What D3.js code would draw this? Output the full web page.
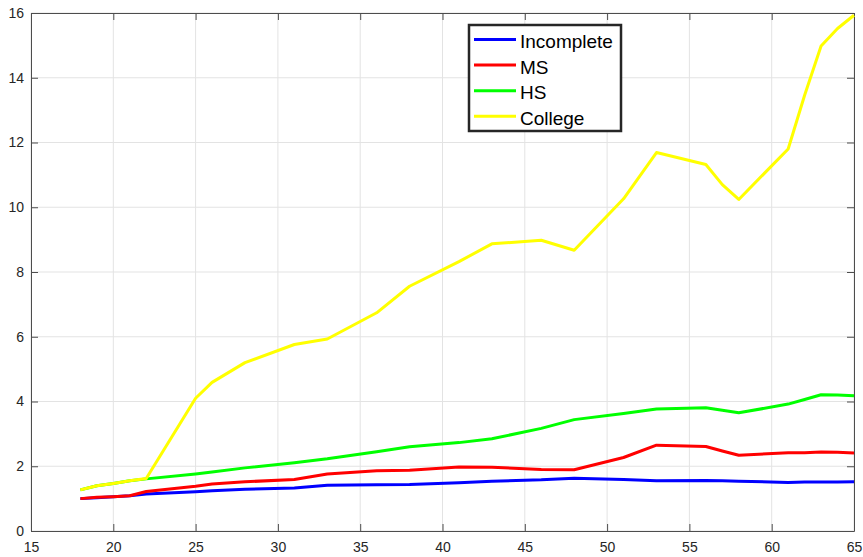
<!DOCTYPE html>
<html>
<head>
<meta charset="utf-8">
<script src="https://cdn.jsdelivr.net/npm/d3@7"></script>
<style>
  body { margin: 0; background: #fff; }
  svg { display: block; font-family: "Liberation Sans", Arial, sans-serif; }
</style>
</head>
<body>
<div id="chart"></div>
<script>
// ages where the curves have their vertices
var ages = [18, 19, 20, 21, 22, 25, 26, 28, 31, 33, 36, 38, 41, 43, 46, 48, 51, 53, 56, 57, 58, 61, 62, 63, 64, 65];

var incomplete = [1.0, 1.03, 1.06, 1.09, 1.14, 1.21, 1.24, 1.29, 1.33, 1.41, 1.43, 1.44, 1.49, 1.54, 1.58, 1.63, 1.59, 1.55, 1.56, 1.55, 1.54, 1.50, 1.51, 1.51, 1.51, 1.52];
var ms = [1.0, 1.04, 1.06, 1.09, 1.22, 1.38, 1.45, 1.52, 1.59, 1.76, 1.86, 1.88, 1.98, 1.97, 1.90, 1.89, 2.27, 2.65, 2.61, 2.47, 2.34, 2.42, 2.42, 2.44, 2.43, 2.41];
var hs = [1.27, 1.40, 1.47, 1.55, 1.61, 1.76, 1.82, 1.95, 2.11, 2.23, 2.45, 2.60, 2.73, 2.85, 3.17, 3.44, 3.63, 3.77, 3.81, 3.73, 3.65, 3.92, 4.06, 4.21, 4.20, 4.18];
var college = [1.27, 1.40, 1.47, 1.55, 1.62, 4.10, 4.59, 5.20, 5.76, 5.93, 6.74, 7.56, 8.32, 8.87, 8.98, 8.67, 10.26, 11.69, 11.32, 10.70, 10.24, 11.80, 13.46, 14.98, 15.52, 15.93];

var seriesNames = ["Incomplete", "MS", "HS", "College"];
var seriesColors = ["#0000ff", "#ff0000", "#00ff00", "#ffff00"];

var xTicks = [15, 20, 25, 30, 35, 40, 45, 50, 55, 60, 65];
var yTicks = [0, 2, 4, 6, 8, 10, 12, 14, 16];

var W = 863, H = 557;
var margin = {left: 31, right: 9, top: 13, bottom: 26};
var iw = W - margin.left - margin.right;
var ih = H - margin.top - margin.bottom;

var svg = d3.select("#chart").append("svg")
    .attr("width", W).attr("height", H);

var g = svg.append("g")
    .attr("transform", "translate(" + margin.left + "," + margin.top + ")");

var x = d3.scaleLinear().domain([15, 65]).range([0, iw]);
var y = d3.scaleLinear().domain([0, 16]).range([ih, 0]);

// grid
g.append("g").selectAll("line").data(xTicks).enter().append("line")
    .attr("x1", function(d) { return x(d); }).attr("x2", function(d) { return x(d); })
    .attr("y1", 0).attr("y2", ih)
    .attr("stroke", "#e3e3e3").attr("stroke-width", 1);
g.append("g").selectAll("line").data(yTicks).enter().append("line")
    .attr("y1", function(d) { return y(d); }).attr("y2", function(d) { return y(d); })
    .attr("x1", 0).attr("x2", iw)
    .attr("stroke", "#e3e3e3").attr("stroke-width", 1);

// axes, MATLAB style: ticks inward, box all around
var axColor = "#4d4d4d";
var xAxis = g.append("g").attr("transform", "translate(0," + ih + ")")
    .call(d3.axisBottom(x).tickValues(xTicks).tickSizeInner(-7).tickSizeOuter(0).tickPadding(11));
var yAxis = g.append("g")
    .call(d3.axisLeft(y).tickValues(yTicks).tickSizeInner(-7).tickSizeOuter(0).tickPadding(7));
var xTop = g.append("g")
    .call(d3.axisTop(x).tickValues(xTicks).tickSizeInner(-7).tickSizeOuter(0).tickFormat(""));
var yRight = g.append("g").attr("transform", "translate(" + iw + ",0)")
    .call(d3.axisRight(y).tickValues(yTicks).tickSizeInner(-7).tickSizeOuter(0).tickFormat(""));

[xAxis, yAxis, xTop, yRight].forEach(function(a) {
  a.selectAll("path").attr("stroke", axColor);
  a.selectAll("line").attr("stroke", axColor);
  a.selectAll("text").attr("fill", "#262626").style("font-size", "14px")
    .style("font-family", "Liberation Sans, Arial, sans-serif");
});

// lines
var allValues = [incomplete, ms, hs, college];
var line = d3.line()
    .x(function(d) { return x(d[0]); })
    .y(function(d) { return y(d[1]); });

allValues.forEach(function(vals, i) {
  g.append("path")
    .datum(ages.map(function(a, j) { return [a, vals[j]]; }))
    .attr("fill", "none")
    .attr("stroke", seriesColors[i])
    .attr("stroke-width", 3)
    .attr("stroke-linejoin", "round")
    .attr("d", line);
});

// legend
var leg = svg.append("g").attr("transform", "translate(469,25)");
leg.append("rect")
    .attr("x", 0).attr("y", 0).attr("width", 152).attr("height", 106)
    .attr("fill", "#fff").attr("stroke", "#262626").attr("stroke-width", 2.5);
seriesNames.forEach(function(name, i) {
  var yy = 14.5 + i * 25.6;
  leg.append("line")
    .attr("x1", 5).attr("x2", 47).attr("y1", yy).attr("y2", yy)
    .attr("stroke", seriesColors[i]).attr("stroke-width", 3);
  leg.append("text")
    .attr("x", 51).attr("y", yy + 8.5)
    .attr("fill", "#000")
    .style("font-size", "19px")
    .text(name);
});
</script>
</body>
</html>
